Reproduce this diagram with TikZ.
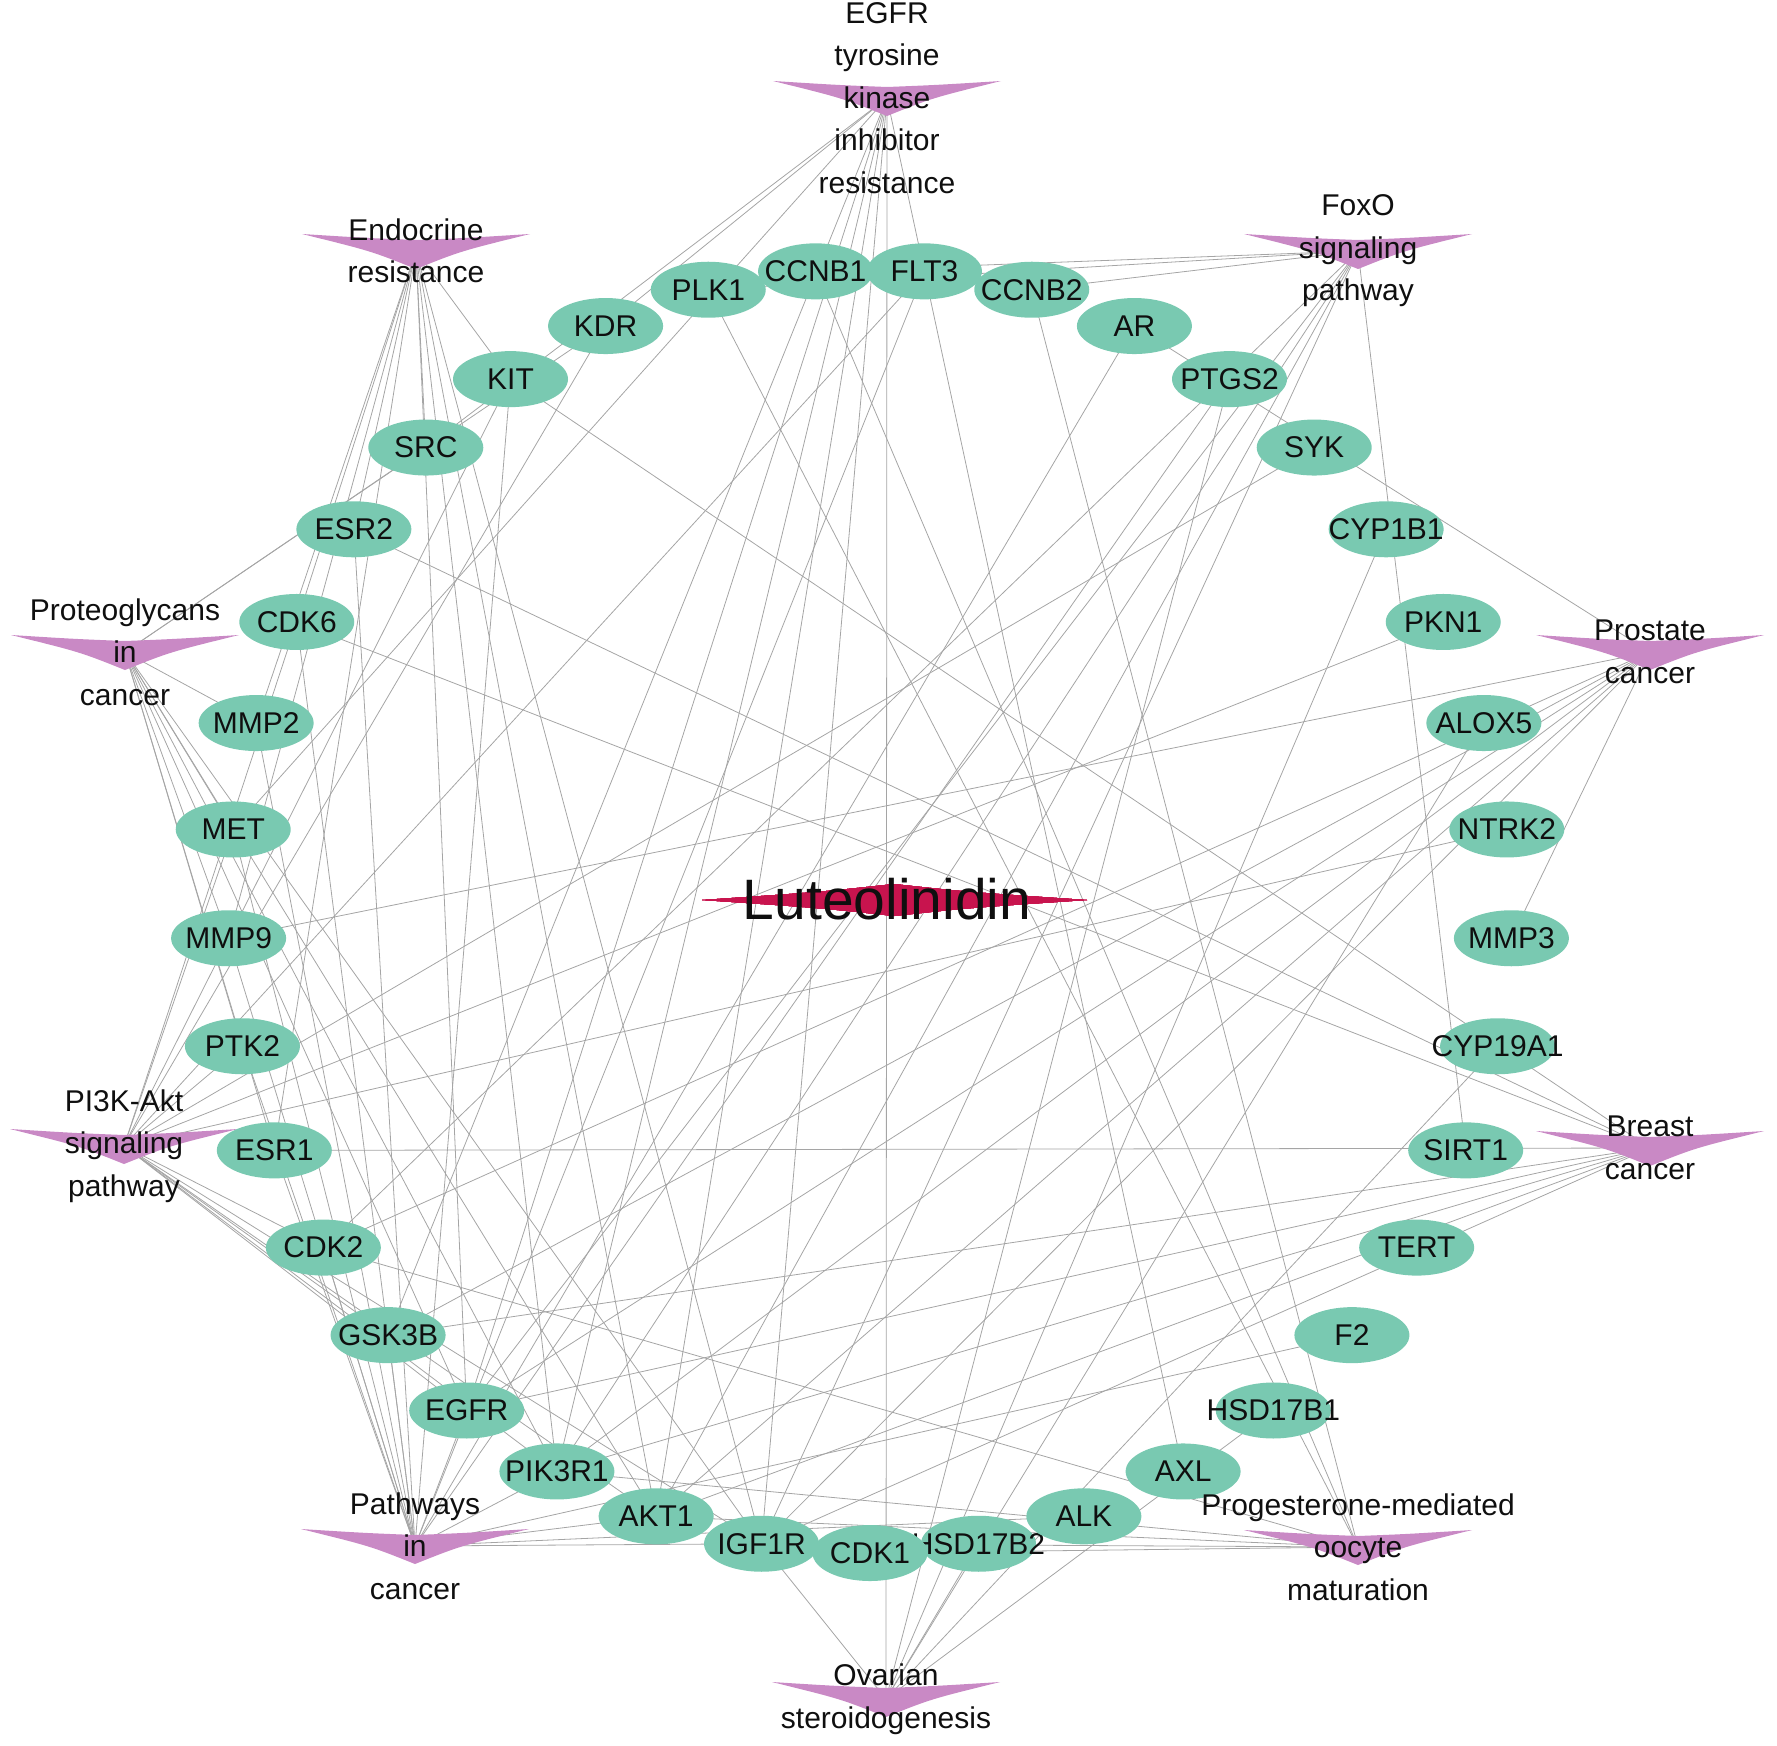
\documentclass[tikz,border=0pt]{standalone}
\usepackage{fontspec}
\setmainfont{Liberation Sans}
\usetikzlibrary{shapes.geometric}
\pgfdeclarelayer{bg}
\pgfsetlayers{bg,main}
\definecolor{tealnode}{RGB}{121,201,177}
\definecolor{vpurple}{RGB}{201,137,197}
\definecolor{lutred}{RGB}{200,20,78}
\definecolor{edgegray}{RGB}{165,165,165}
\definecolor{txt}{RGB}{15,15,15}
\newcommand\vchevron[1]{\fill[vpurple,shift={(#1.center)}] (-114,-17) .. controls (-50,-13) .. (0,-11) .. controls (50,-13) .. (114,-17) .. controls (45,0) .. (0,18) .. controls (-45,0) .. cycle;}
\begin{document}
\begin{tikzpicture}[x=1pt,y=-1pt,
  target/.style={ellipse, fill=tealnode, minimum width=115pt, minimum height=56pt, inner sep=0pt, text=txt, font=\fontsize{30}{36}\selectfont},
  pathway/.style={align=center, inner sep=0pt, text=txt, font=\fontsize{30}{42.5}\selectfont},
  edge/.style={draw=edgegray, line width=0.8pt}]
\path[use as bounding box] (0,0) rectangle (1777,1745);
% targets on a circle
\foreach \nm [count=\k from 1] in {HSD17B2,ALK,AXL,HSD17B1,F2,TERT,SIRT1,CYP19A1,MMP3,NTRK2,ALOX5,PKN1,CYP1B1,SYK,PTGS2,AR,CCNB2,FLT3,CCNB1,PLK1,KDR,KIT,SRC,ESR2,CDK6,MMP2,MET,MMP9,PTK2,ESR1,CDK2,GSK3B,EGFR,PIK3R1,AKT1,IGF1R,CDK1}
  {\node[target] (\nm) at ({870+642*sin(\k*360/37)},{911+642*cos(\k*360/37)}) {\makebox[0pt]{\nm}};}
% pathways
\node[pathway] (pEGFR) at (887,98) {EGFR\\tyrosine\\kinase\\inhibitor\\resistance};
\node[pathway] (pFoxO) at (1358,251) {FoxO\\signaling\\pathway};
\node[pathway] (pProst) at (1650,652) {Prostate\\cancer};
\node[pathway] (pBreast) at (1650,1148) {Breast\\cancer};
\node[pathway] (pProg) at (1358,1547) {Progesterone-mediated\\oocyte\\maturation};
\node[pathway] (pOvar) at (886,1699) {Ovarian\\steroidogenesis};
\node[pathway] (pPath) at (415,1546) {Pathways\\in\\cancer};
\node[pathway] (pPI3K) at (124,1146) {PI3K-Akt\\signaling\\pathway};
\node[pathway] (pProteo) at (125,652) {Proteoglycans\\in\\cancer};
\node[pathway] (pEndo) at (416,251) {Endocrine\\resistance};
% compound
\node[inner sep=0pt, text=txt, font=\fontsize{57}{60}\selectfont] (lut) at (887,899) {Luteolinidin};
\begin{pgfonlayer}{bg}
\foreach \t in {SRC,KDR,MET,GSK3B,EGFR,PIK3R1,AKT1,IGF1R,AXL,pOvar} \draw[edge] (pEGFR.center) -- (\t.center);
\foreach \t in {CCNB1,CCNB2,PLK1,CDK2,SIRT1,AKT1,PIK3R1,IGF1R,EGFR} \draw[edge] (pFoxO.center) -- (\t.center);
\foreach \t in {AR,MMP3,MMP9,CDK2,GSK3B,EGFR,PIK3R1,AKT1,IGF1R} \draw[edge] (pProst.center) -- (\t.center);
\foreach \t in {ESR1,ESR2,CDK6,KIT,GSK3B,EGFR,PIK3R1,AKT1,IGF1R} \draw[edge] (pBreast.center) -- (\t.center);
\foreach \t in {CDK1,CCNB1,CCNB2,PLK1,CDK2,AKT1,PIK3R1,IGF1R} \draw[edge] (pProg.center) -- (\t.center);
\foreach \t in {IGF1R,PTGS2,CYP1B1,ALOX5,HSD17B2,HSD17B1,CYP19A1} \draw[edge] (pOvar.center) -- (\t.center);
\foreach \t in {AKT1,PIK3R1,EGFR,GSK3B,CDK2,CDK6,ESR1,ESR2,PTK2,MMP9,MMP2,MET,IGF1R,KIT,FLT3,PTGS2,AR,F2,ALK} \draw[edge] (pPath.center) -- (\t.center);
\foreach \t in {AKT1,PIK3R1,EGFR,GSK3B,CDK2,CDK6,PTK2,MET,IGF1R,KIT,KDR,FLT3,SYK,NTRK2,PKN1} \draw[edge] (pPI3K.center) -- (\t.center);
\foreach \t in {AKT1,PIK3R1,EGFR,SRC,PTK2,MMP9,MMP2,MET,IGF1R,KDR,ESR1} \draw[edge] (pProteo.center) -- (\t.center);
\foreach \t in {ESR1,ESR2,SRC,AKT1,PIK3R1,EGFR,IGF1R,CDK6,MMP2,MMP9,KIT} \draw[edge] (pEndo.center) -- (\t.center);
\foreach \p in {pEGFR,pFoxO,pProst,pBreast,pProg,pOvar,pPath,pPI3K,pProteo,pEndo} \vchevron{\p}
\fill[lutred] (702,900) .. controls (820,892) .. (894,884) .. controls (968,892) .. (1087,900) .. controls (968,908) .. (894,916) .. controls (820,908) .. cycle;
\end{pgfonlayer}
\end{tikzpicture}
\end{document}
